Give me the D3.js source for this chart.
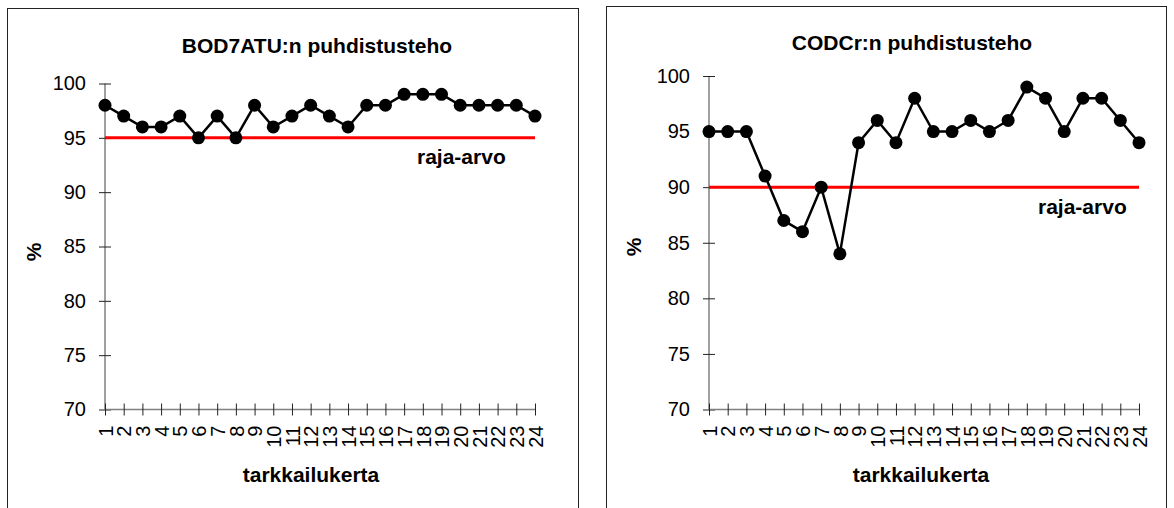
<!DOCTYPE html>
<html>
<head>
<meta charset="utf-8">
<script src="https://cdn.jsdelivr.net/npm/d3@7"></script>
<style>
  body { margin: 0; background: #fff; }
  text { font-family: "Liberation Sans", Arial, sans-serif; fill: #000; }
  .bold { font-weight: bold; font-size: 21px; }
  .tick text { font-size: 20px; }
</style>
</head>
<body>
<div id="chart"></div>
<script>
const width = 1174;
const height = 508;

const categories = d3.range(1, 25).map(String);
const bodValues = [98, 97, 96, 96, 97, 95, 97, 95, 98, 96, 97, 98, 97, 96, 98, 98, 99, 99, 99, 98, 98, 98, 98, 97];
const codValues = [95, 95, 95, 91, 87, 86, 90, 84, 94, 96, 94, 98, 95, 95, 96, 95, 96, 99, 98, 95, 98, 98, 96, 94];
const yTicks = [70, 75, 80, 85, 90, 95, 100];
const bodLimit = 95;
const codLimit = 90;

const svg = d3.select("#chart")
  .append("svg")
  .attr("width", width)
  .attr("height", height);

const panels = [
  {
    frame: [7.5, 8.5, 571, 520],
    x0: 105, x1: 535, yTop: 83.5, yBottom: 409.5,
    title: "BOD7ATU:n puhdistusteho", titleX: 317, titleY: 53,
    values: bodValues, limit: bodLimit,
    limitX: 417, limitY: 164,
    xLabelX: 311, yLabelX: 33, yLabelY: 252
  },
  {
    frame: [606.5, 6.5, 560, 520],
    x0: 709, x1: 1139, yTop: 76, yBottom: 409.5,
    title: "CODCr:n puhdistusteho", titleX: 912, titleY: 50,
    values: codValues, limit: codLimit,
    limitX: 1038, limitY: 214,
    xLabelX: 921, yLabelX: 633, yLabelY: 247
  }
];

panels.forEach(drawPanel);

function drawPanel(p) {
  const g = svg.append("g");

  g.append("rect")
    .attr("x", p.frame[0]).attr("y", p.frame[1])
    .attr("width", p.frame[2]).attr("height", p.frame[3])
    .attr("fill", "none")
    .attr("stroke", "#222")
    .attr("stroke-width", 1);

  const x = d3.scalePoint().domain(categories).range([p.x0, p.x1]);
  const y = d3.scaleLinear().domain([70, 100]).range([p.yBottom, p.yTop]);

  // y axis
  const yAxis = g.append("g")
    .attr("transform", `translate(${p.x0},0)`)
    .call(d3.axisLeft(y).tickValues(yTicks).tickSize(6).tickPadding(13));
  yAxis.select(".domain").attr("stroke", "#808080").attr("stroke-width", 1.5).attr("d", `M0,${p.yTop}V${p.yBottom}`);
  yAxis.selectAll(".tick line").attr("x1", 6).attr("stroke", "#222");
  yAxis.selectAll(".tick text").attr("font-family", null).attr("font-size", null);

  // x axis
  const xAxis = g.append("g")
    .attr("transform", `translate(0,${p.yBottom})`)
    .call(d3.axisBottom(x).tickSize(6).tickPadding(0));
  xAxis.select(".domain").attr("stroke", "#808080").attr("stroke-width", 1.5).attr("d", `M${p.x0},0H${p.x1}`);
  xAxis.selectAll(".tick line").attr("y1", -6).attr("stroke", "#222");
  xAxis.selectAll(".tick text")
    .attr("font-family", null).attr("font-size", null)
    .attr("transform", "rotate(-90)")
    .attr("text-anchor", "end")
    .attr("x", -16)
    .attr("y", 0)
    .attr("dy", "0.36em");

  // limit line
  g.append("line")
    .attr("x1", p.x0).attr("x2", p.x1)
    .attr("y1", y(p.limit)).attr("y2", y(p.limit))
    .attr("stroke", "#ff0000")
    .attr("stroke-width", 3);

  g.append("text")
    .attr("class", "bold")
    .attr("x", p.limitX).attr("y", p.limitY)
    .text("raja-arvo");

  // series
  const line = d3.line()
    .x((d, i) => x(categories[i]))
    .y(d => y(d));

  g.append("path")
    .datum(p.values)
    .attr("d", line)
    .attr("fill", "none")
    .attr("stroke", "#000")
    .attr("stroke-width", 2.5);

  g.selectAll("circle")
    .data(p.values)
    .enter()
    .append("circle")
    .attr("cx", (d, i) => x(categories[i]))
    .attr("cy", d => y(d))
    .attr("r", 6.5)
    .attr("fill", "#000");

  // titles
  g.append("text")
    .attr("class", "bold")
    .attr("x", p.titleX).attr("y", p.titleY)
    .attr("text-anchor", "middle")
    .text(p.title);

  g.append("text")
    .attr("class", "bold")
    .attr("x", p.xLabelX).attr("y", 482)
    .attr("text-anchor", "middle")
    .text("tarkkailukerta");

  g.append("text")
    .attr("class", "bold")
    .attr("transform", `translate(${p.yLabelX},${p.yLabelY}) rotate(-90)`)
    .attr("text-anchor", "middle")
    .attr("dy", "0.36em")
    .text("%");
}
</script>
</body>
</html>
